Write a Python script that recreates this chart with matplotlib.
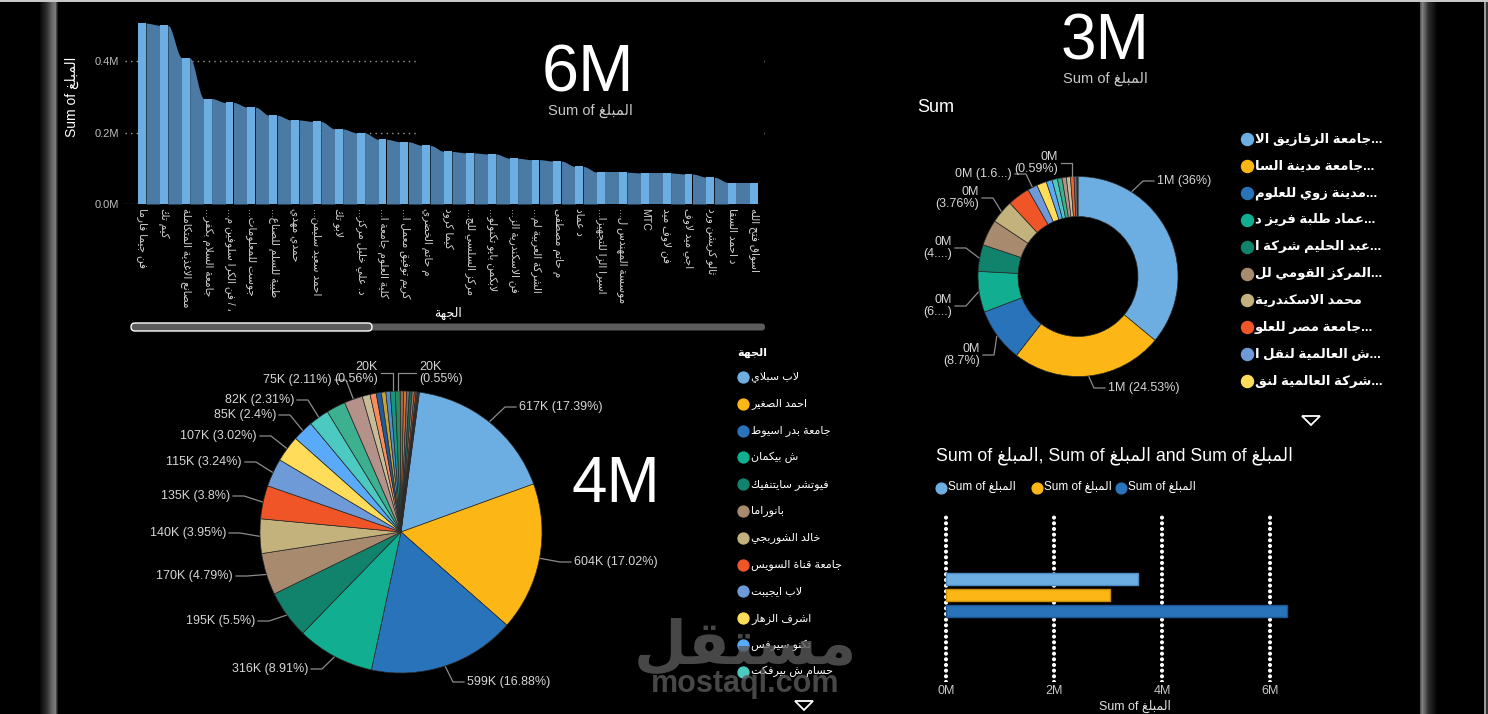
import numpy as np
import matplotlib
matplotlib.use("Agg")
import matplotlib.pyplot as plt
from matplotlib.patches import Rectangle, FancyBboxPatch, Polygon
from matplotlib.ticker import FuncFormatter

plt.rcParams['font.family'] = ['Liberation Sans', 'DejaVu Sans']

# ---------------- data ----------------
bar_names = ['فن جيما فارما', 'كيم تك', 'مصانع الاغذية المتكاملة', 'جامعة السلام بكفر...',
             '، / فن الكرا سلوفين م...', 'جوست للمعلومات...', 'طيبة للسلم للصناع...',
             'حمدي مهدي', 'احمد سعيد سليمن...', 'لابو تك', 'د. علي خليل مركز...',
             'كلية العلوم جامعة ا...', 'كريم توفيق معمل ا...', 'م حاتم الخضري', 'كيما كرود',
             'مركز السلسي للج...', 'لابكمن بايو تكنولو...', 'فن الاسكندرية الز...',
             'الشركة العربية لم...', 'م حاتم مصطفى', 'د عماد', 'اسيرا الزا للتجهيزا...',
             'موسسة المهندس ل...', 'MTC', 'فن لاوف ميد', 'اجي ميد لاوف', 'ثالو كريشن ورد',
             'د احمد السقا', 'اسواق فتح الله']
bar_vals = [0.506, 0.500, 0.409, 0.295, 0.284, 0.271, 0.248, 0.235, 0.231, 0.210,
            0.199, 0.181, 0.174, 0.164, 0.147, 0.143, 0.140, 0.128, 0.124, 0.120,
            0.105, 0.089, 0.089, 0.087, 0.087, 0.084, 0.075, 0.060, 0.060]

pie_names = ['لاب سبلاي', 'احمد الصغير', 'جامعة بدر اسيوط', 'ش بيكمان', 'فيوتشر سايتنفيك',
             'بانوراما', 'خالد الشوربجي', 'جامعة قناة السويس', 'لاب ايجيبت', 'اشرف الزهار',
             'تكنو سيرفس', 'حسام ش بيرفكت']
pie_vals = [617, 604, 599, 316, 195, 170, 140, 135, 115, 107, 85, 82, 78, 75,
            32, 25, 21, 18, 18, 20, 20, 14, 12, 11, 11, 9, 7, 5, 4, 4]
pie_labels = {0: '617K (17.39%)', 1: '604K (17.02%)', 2: '599K (16.88%)', 3: '316K (8.91%)',
              4: '195K (5.5%)', 5: '170K (4.79%)', 6: '140K (3.95%)', 7: '135K (3.8%)',
              8: '115K (3.24%)', 9: '107K (3.02%)', 10: '85K (2.4%)', 11: '82K (2.31%)',
              13: '75K (2.11%)', 19: '20K\n(0.56%)', 20: '20K\n(0.55%)'}
pie_colors = ['#6DAEE2', '#FCB716', '#2873B9', '#12AE92', '#11826C', '#A88A6E', '#C4B27D',
              '#F05528', '#6E9BD7', '#FFDC5A', '#5AAAFA', '#4CC9C0', '#3CB08F', '#B49289',
              '#C8BC98', '#F78B5A', '#1E5AA0', '#C9A332', '#4D8CD2', '#139682', '#2D8A5E',
              '#8C6E55', '#E0702E', '#707070', '#1A6B5E', '#A07A60', '#D05020', '#4A6080',
              '#6A5A40', '#305070']

donut_names = ['جامعة الزقازيق الا...', 'جامعة مدينة السا...', 'مدينة زوي للعلوم...',
               'عماد طلبة فريز د...', 'عبد الحليم شركة ا...', 'المركز القومي لل...',
               'محمد الاسكندرية', 'جامعة مصر للعلو...', 'ش العالمية لنقل ا...',
               'شركة العالمية لنق...']
donut_vals = [1044, 711, 252, 191, 125, 122, 109, 104, 46, 46, 28, 25, 22, 20, 19, 17, 13, 5]
donut_labels = {0: '1M (36%)', 1: '1M (24.53%)', 2: '0M\n(8.7%)', 3: '0M\n(6....)',
                4: '0M\n(4....)', 6: '0M\n(3.76%)', 8: '0M (1.6...)', 15: '0M\n(0.59%)'}
donut_colors = ['#6DAEE2', '#FCB716', '#2873B9', '#12AE92', '#11826C', '#A88A6E', '#C4B27D',
                '#F05528', '#6E9BD7', '#FFDC5A', '#5AAAFA', '#4CC9C0', '#3CB08F', '#B49289',
                '#C8BC98', '#F0602E', '#707070', '#3A3A3A']

series_vals = [3.549, 3.04, 6.32]          # M
series_colors = ['#6DAEE2', '#FCB716', '#2873B9']
series_edges = ['#4F8CC0', '#C98F0A', '#1D5590']

# ---------------- arabic shaping (visual order, presentation forms) ----------------
_LETTERS = 'ءآأؤإئابةتثجحخدذرزسشصضطظعغفقكلمنهوىي'
_RIGHT = set('آأؤإاةدذرزوى')
_FORMS = {}
_code = 0xFE80
for _ch in _LETTERS:
    if _ch == 'ء':
        _FORMS[_ch] = (_code,) * 4
        _code += 1
    elif _ch in _RIGHT:
        _FORMS[_ch] = (_code, _code + 1, _code, _code + 1)
        _code += 2
    else:
        _FORMS[_ch] = (_code, _code + 1, _code + 2, _code + 3)
        _code += 4
_LAM_ALEF = {'آ': 0xFEF5, 'أ': 0xFEF7, 'إ': 0xFEF9, 'ا': 0xFEFB}


def _joins_next(c):
    return c in _FORMS and c not in _RIGHT and c != 'ء'


def ar(text):
    if not any(c in _FORMS for c in text):
        return text
    out = []
    i, n = 0, len(text)
    while i < n:
        c = text[i]
        jp = _joins_next(text[i - 1]) if i > 0 else False
        if c == 'ل' and i + 1 < n and text[i + 1] in _LAM_ALEF:
            out.append(chr(_LAM_ALEF[text[i + 1]] + (1 if jp else 0)))
            i += 2
            continue
        if c in _FORMS:
            nxt = text[i + 1] if i + 1 < n else ''
            jn = _joins_next(c) and nxt in _FORMS
            iso, fin, ini, med = _FORMS[c]
            out.append(chr(med if (jp and jn) else fin if jp else ini if jn else iso))
        else:
            out.append(c)
        i += 1
    return ''.join(reversed(out))


def trunc_left(s):
    return '...' + ar(s[:-3]) if s.endswith('...') else ar(s)


def trunc_right(s):
    return ar(s[:-3]) + '...' if s.endswith('...') else ar(s)


SUM_OF = 'Sum of ' + ar('المبلغ')

# ---------------- figure ----------------
W, H = 1488, 714
fig = plt.figure(figsize=(W / 100, H / 100), dpi=100, facecolor='black')


def rect(x0, y0, x1, y1):
    return [x0 / W, 1 - y1 / H, (x1 - x0) / W, (y1 - y0) / H]


# frame / background
bg = fig.add_axes([0, 0, 1, 1], zorder=0)
bg.set_facecolor('black')
lg = np.interp(np.arange(40, 59), [40, 46, 52, 55, 56, 58], [0.04, 0.18, 0.42, 0.48, 0.28, 0.0])
bg.imshow(lg[None, :], cmap='gray', vmin=0, vmax=1, extent=(40, 59, H, 0), aspect='auto')
rg = np.interp(np.arange(1420, 1438), [1420, 1422, 1428, 1437], [0.35, 0.5, 0.18, 0.0])
bg.imshow(rg[None, :], cmap='gray', vmin=0, vmax=1, extent=(1420, 1438, H, 0), aspect='auto')
bg.add_patch(Rectangle((1484, 0), 1.5, H, color='#9a9a9a', lw=0))
bg.add_patch(Rectangle((1485.5, 0), 2.5, H, color='#383838', lw=0))
bg.add_patch(Rectangle((0, 0), W, 1.6, color='#c8c8c8', lw=0))
bg.set_xlim(0, W)
bg.set_ylim(H, 0)
bg.axis('off')

# ---- ribbon/column chart (top left) ----
ax1 = fig.add_axes(rect(125, 18, 765, 204), zorder=1)
ax1.set_facecolor('none')
bw = 0.36
xi = np.arange(len(bar_vals))
for i in range(len(bar_vals) - 1):
    xs = np.linspace(i + bw / 2, i + 1 - bw / 2, 40)
    t = (xs - xs[0]) / (xs[-1] - xs[0])
    ys = bar_vals[i] + (bar_vals[i + 1] - bar_vals[i]) * t * t * (3 - 2 * t)
    ax1.fill_between(xs, 0, ys, color='#4B7BA5', lw=0, zorder=2)
ax1.bar(xi, bar_vals, width=bw, color='#6DAEE2', lw=0, zorder=3)
for v in [0.0, 0.2, 0.4]:
    ax1.axhline(v, color='#9a9a9a', lw=1, ls=(0, (1, 3)), zorder=1)
ax1.set_xlim(-0.78, 28.5)
ax1.set_ylim(0, 0.5203)
ax1.set_yticks([0, 0.2, 0.4])
ax1.yaxis.set_major_formatter(FuncFormatter(lambda v, p: f'{v:.1f}M'))
ax1.set_xticks(xi)
ax1.set_xticklabels([trunc_left(s) for s in bar_names], rotation=-90, fontsize=7.6,
                    color='#d0d0d0')
ax1.tick_params(axis='x', length=0, pad=3)
ax1.tick_params(axis='y', length=0, pad=4, labelsize=8, labelcolor='#bdbdbd')
for s in ax1.spines.values():
    s.set_visible(False)

# KPI card covering part of the column chart
card = fig.add_axes(rect(420, 20, 762, 135), zorder=2)
card.set_facecolor('black')
card.set_xticks([])
card.set_yticks([])
for s in card.spines.values():
    s.set_visible(False)

# ---- pie (bottom left) ----
PCX, PCY, PR = 401, 532, 141
ax2 = fig.add_axes(rect(PCX - 150, PCY - 150, PCX + 150, PCY + 150), zorder=1)
pw, _ = ax2.pie(pie_vals, colors=pie_colors, startangle=82.5, counterclock=False, radius=1,
                wedgeprops=dict(edgecolor='#2a2a2a', linewidth=0.5))
ax2.set_xlim(-150 / PR, 150 / PR)
ax2.set_ylim(-150 / PR, 150 / PR)

# ---- donut (top right) ----
DCX, DCY, DR = 1078, 276.5, 100
ax3 = fig.add_axes(rect(DCX - 120, DCY - 120, DCX + 120, DCY + 120), zorder=1)
dw, _ = ax3.pie(donut_vals, colors=donut_colors, startangle=90, counterclock=False, radius=1,
                wedgeprops=dict(width=0.4, edgecolor='#2a2a2a', linewidth=0.5))
ax3.set_xlim(-1.2, 1.2)
ax3.set_ylim(-1.2, 1.2)

# ---- clustered bar (bottom right) ----
ax4 = fig.add_axes(rect(940, 512, 1300, 682), zorder=1)
ax4.set_facecolor('none')
ax4.barh([0, 1, 2], series_vals, height=0.75, color=series_colors, edgecolor=series_edges,
         linewidth=1, zorder=3)
ax4.set_xlim(-0.111, 6.556)
ax4.set_ylim(6.44, -4.19)
ax4.set_xticks([0, 2, 4, 6])
ax4.set_yticks([])
ax4.xaxis.set_major_formatter(FuncFormatter(lambda v, p: f'{v:.0f}M'))
ax4.tick_params(axis='x', length=0, pad=2, labelsize=9, labelcolor='#c8c8c8')
ax4.grid(axis='x', color='white', lw=3, ls=(0, (0.01, 1.35)), zorder=1)
for gl in ax4.get_xgridlines():
    gl.set_dash_capstyle('round')
for s in ax4.spines.values():
    s.set_visible(False)

# ---------------- overlay: texts, legends, leaders ----------------
ov = fig.add_axes([0, 0, 1, 1], zorder=5)
ov.set_xlim(0, W)
ov.set_ylim(H, 0)
ov.axis('off')
ov.patch.set_alpha(0)

LEAD = '#8c8c8c'
LBL = '#d6d6d6'


def leader(wedge, cx, cy, r, tx, ty, ha, text, style='r', frac=0.5, size=9):
    ang = np.deg2rad(wedge.theta2 - frac * (wedge.theta2 - wedge.theta1))
    x0, y0 = cx + (r + 1) * np.cos(ang), cy - (r + 1) * np.sin(ang)
    sgn = -1 if ha == 'left' else 1
    end = tx + sgn * 3
    if style == 'r':
        xs, ys = [x0, tx + sgn * 14, end], [y0, ty, ty]
    else:
        xs, ys = [x0, x0, end], [y0, ty, ty]
    ov.plot(xs, ys, color=LEAD, lw=0.9)
    ov.text(tx, ty, text, ha=ha, va='center', fontsize=size, color=LBL,
            multialignment='right' if ha == 'right' else 'left', linespacing=1.0)


pie_pos = {0: (519, 407, 'left', 'r'), 1: (574, 562, 'left', 'r'), 2: (467, 682, 'left', 'r'),
           3: (308, 669, 'right', 'r'), 4: (255, 621, 'right', 'r'), 5: (233, 576, 'right', 'r'),
           6: (226, 533, 'right', 'r'), 7: (230, 496, 'right', 'r'), 8: (242, 462, 'right', 'r'),
           9: (257, 436, 'right', 'r'), 10: (276, 415, 'right', 'r'), 11: (294, 400, 'right', 'r'),
           13: (332, 380, 'right', 'r'), 19: (378, 373, 'right', 'v'), 20: (419, 373, 'left', 'v')}
for k, (tx, ty, ha, st) in pie_pos.items():
    leader(pw[k], PCX, PCY, PR, tx, ty, ha, pie_labels[k], st)

donut_pos = {0: (1157, 181, 'left', 'r', 0.25), 1: (1108, 388, 'left', 'r', 0.5),
             2: (980, 355, 'right', 'r', 0.5), 3: (952, 306, 'right', 'r', 0.5),
             4: (952, 248, 'right', 'r', 0.5), 6: (979, 198, 'right', 'r', 0.5),
             8: (1012, 174, 'right', 'r', 0.5), 15: (1058, 163, 'right', 'v', 0.5)}
for k, (tx, ty, ha, st, fr) in donut_pos.items():
    leader(dw[k], DCX, DCY, DR, tx, ty, ha, donut_labels[k], st, fr)

# KPI cards
ov.text(588, 92, f'{series_vals[2]:.0f}M', fontsize=48, color='white', ha='center', va='baseline')
ov.text(590, 115, SUM_OF, fontsize=10.5, color='#c8c8c8', ha='center', va='baseline')
ov.text(1105, 60, f'{series_vals[1]:.0f}M', fontsize=46, color='white', ha='center', va='baseline')
ov.text(1105, 83, SUM_OF, fontsize=10.5, color='#c8c8c8', ha='center', va='baseline')
ov.text(616, 502, f'{series_vals[0]:.0f}M', fontsize=46, color='white', ha='center', va='baseline')

# column chart axis titles + scrollbar
ov.text(72, 97, SUM_OF, rotation=90, fontsize=10, color='white', ha='center', va='center')
ov.text(448, 313, ar('الجهة'), fontsize=9, color='white', ha='center', va='center')
ov.add_patch(FancyBboxPatch((132, 323.5), 633, 7, boxstyle='round,pad=0,rounding_size=3.5',
                            fc='#5c5c5c', ec='none'))
ov.add_patch(FancyBboxPatch((131, 323), 241, 8, boxstyle='round,pad=0,rounding_size=4',
                            fc='#5c5c5c', ec='white', lw=1))

# pie legend
ov.text(737, 353, ar('الجهة'), fontsize=8, color='white', fontweight='bold', ha='left', va='center')
for i, nm in enumerate(pie_names):
    y = 377 + i * 26.8
    ov.scatter([743], [y], s=62, color=pie_colors[i], zorder=4)
    ov.text(751, y, ar(nm), fontsize=8, color='white', ha='left', va='center')

# donut title + legend
ov.text(917, 108, 'Sum', fontsize=13, color='white', ha='left', va='center')
for i, nm in enumerate(donut_names):
    y = 139 + i * 26.9
    ov.scatter([1247], [y], s=75, color=donut_colors[i], zorder=4)
    ov.text(1255, y, trunc_right(nm), fontsize=9.5, fontweight='bold', color='white',
            ha='left', va='center')

# clustered bar title, legend, axis title
ov.text(936, 456, f'{SUM_OF}, {SUM_OF} and {SUM_OF}', fontsize=12.8, color='white',
        ha='left', va='center')
for xl, c in zip([941, 1037, 1121], series_colors):
    ov.scatter([xl], [488], s=60, color=c, zorder=4)
    ov.text(xl + 7, 487, SUM_OF, fontsize=8.5, color='white', ha='left', va='center')
ov.text(1135, 706, SUM_OF, fontsize=9, color='#e0e0e0', ha='center', va='center')

# "more" arrows
for cx, cy in [(1311, 420), (804, 705)]:
    ov.add_patch(Polygon([(cx - 9, cy - 4), (cx + 9, cy - 4), (cx, cy + 5)], closed=True,
                         fc='none', ec='white', lw=1.3))

# watermark
ov.text(745, 648, ar('مستقل'), fontsize=44, fontweight='bold', color='#5a5a5a', alpha=0.8,
        ha='center', va='center', zorder=10)
ov.text(745, 684, 'mostaql.com', fontsize=22, fontweight='bold', color='#5a5a5a', alpha=0.8,
        ha='center', va='center', zorder=10)

fig.savefig('out.png', dpi=100, facecolor='black')
